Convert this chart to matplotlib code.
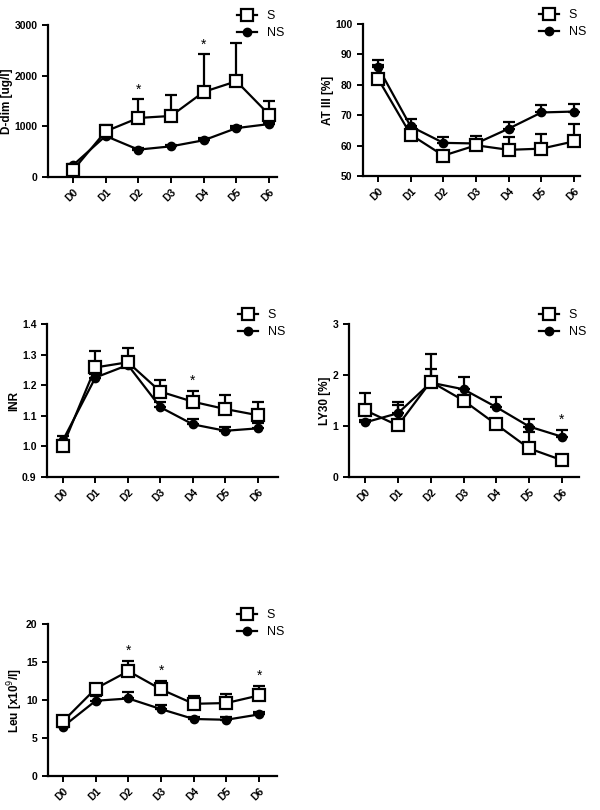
import numpy as np
import matplotlib.pyplot as plt
from matplotlib.lines import Line2D

plt.rcParams['font.family'] = ['Liberation Sans', 'DejaVu Sans']

days = ["D0", "D1", "D2", "D3", "D4", "D5", "D6"]

# D-dim [ug/l]
ddim_s = [130, 900, 1165, 1205, 1680, 1890, 1230]
ddim_s_err = [40, 120, 365, 410, 740, 745, 270]
ddim_ns = [230, 810, 540, 605, 725, 965, 1045]
ddim_ns_err = [30, 40, 30, 30, 40, 40, 40]
ddim_stars = [2, 4]

# AT III [%]
at_s = [82.0, 63.6, 56.7, 60.1, 58.6, 59.0, 61.4]
at_s_err = [4.5, 2.5, 1.5, 1.8, 4.2, 4.8, 5.8]
at_ns = [85.8, 66.3, 60.9, 60.7, 65.6, 70.9, 71.2]
at_ns_err = [2.2, 2.6, 1.9, 2.6, 2.0, 2.4, 2.4]
at_stars = []

# INR
inr_s = [1.002, 1.258, 1.275, 1.179, 1.146, 1.122, 1.102]
inr_s_err = [0.01, 0.054, 0.047, 0.038, 0.035, 0.046, 0.042]
inr_ns = [1.020, 1.225, 1.266, 1.128, 1.072, 1.051, 1.059]
inr_ns_err = [0.013, 0.01, 0.01, 0.017, 0.016, 0.013, 0.016]
inr_stars = [4]

# LY30 [%]
ly_s = [1.31, 1.01, 1.87, 1.50, 1.03, 0.56, 0.33]
ly_s_err = [0.33, 0.40, 0.55, 0.10, 0.10, 0.33, 0.05]
ly_ns = [1.07, 1.25, 1.85, 1.72, 1.37, 0.99, 0.79]
ly_ns_err = [0.05, 0.23, 0.27, 0.24, 0.20, 0.14, 0.14]
ly_stars = [6]

# Leu [x10^9/l]
leu_s = [7.2, 11.5, 13.8, 11.4, 9.5, 9.6, 10.6]
leu_s_err = [0.4, 0.6, 1.3, 1.1, 1.0, 1.2, 1.2]
leu_ns = [6.5, 9.9, 10.2, 8.8, 7.5, 7.4, 8.1]
leu_ns_err = [0.3, 0.6, 0.8, 0.6, 0.3, 0.3, 0.3]
leu_stars = [2, 3, 6]

panels = [
    # data, axes box in pixels (left, right, top, bottom), ylim, yticks, xlim, label
    (ddim_s, ddim_s_err, ddim_ns, ddim_ns_err, ddim_stars,
     (48, 277, 25, 177), (0, 3000), [0, 1000, 2000, 3000], (-0.76, 6.24), "D-dim [ug/l]"),
    (at_s, at_s_err, at_ns, at_ns_err, at_stars,
     (363, 580, 24, 176), (50, 100), [50, 60, 70, 80, 90, 100], (-0.46, 6.18), "AT III [%]"),
    (inr_s, inr_s_err, inr_ns, inr_ns_err, inr_stars,
     (47, 278, 324, 477), (0.9, 1.4), [0.9, 1.0, 1.1, 1.2, 1.3, 1.4], (-0.49, 6.62), "INR"),
    (ly_s, ly_s_err, ly_ns, ly_ns_err, ly_stars,
     (349, 579, 324, 477), (0, 3), [0, 1, 2, 3], (-0.49, 6.52), "LY30 [%]"),
    (leu_s, leu_s_err, leu_ns, leu_ns_err, leu_stars,
     (48, 277, 624, 776), (0, 20), [0, 5, 10, 15, 20], (-0.46, 6.55), "Leu [x10$^9$/l]"),
]

W, H = 600, 810
fig = plt.figure(figsize=(6, 8.1), dpi=100)

s_handle = Line2D([], [], color='black', lw=1.6, marker='s', ms=8.5, mfc='white', mew=1.6)
ns_handle = Line2D([], [], color='black', lw=1.6, marker='o', ms=6, mfc='black')

for s, se, ns, nse, stars, box, ylim, yticks, xlim, label in panels:
    l, r, t, b = box
    ax = fig.add_axes([l / W, 1 - b / H, (r - l) / W, (b - t) / H])
    x = np.arange(len(days))
    z = np.zeros(len(days))
    ax.errorbar(x, ns, yerr=[z, nse], color='black', lw=1.6, marker='o', ms=6,
                mfc='black', mec='black', capsize=4, capthick=1.6, elinewidth=1.6)
    ax.errorbar(x, s, yerr=[z, se], color='black', lw=1.6, marker='s', ms=8.5,
                mfc='white', mec='black', mew=1.6, capsize=4, capthick=1.6, elinewidth=1.6)
    span = ylim[1] - ylim[0]
    for i in stars:
        top = max(s[i] + se[i], ns[i] + nse[i])
        ax.text(i, top + 0.02 * span, "*", ha='center', va='bottom', fontsize=10)
    ax.set_ylim(*ylim)
    ax.set_xlim(*xlim)
    ax.set_yticks(yticks)
    ax.set_xticks(x)
    ax.set_xticklabels(days, rotation=45, ha='right', rotation_mode='anchor')
    for sp in ['top', 'right']:
        ax.spines[sp].set_visible(False)
    for sp in ['left', 'bottom']:
        ax.spines[sp].set_linewidth(1.6)
    ax.tick_params(width=1.4, length=4, labelsize=7.5)
    for lab in ax.get_xticklabels() + ax.get_yticklabels():
        lab.set_fontweight('bold')
    ax.set_ylabel(label, fontsize=8.5, fontweight='bold', labelpad=1)
    ax.legend([s_handle, ns_handle], ["S", "NS"], loc='upper right', bbox_to_anchor=(1.08, 1.17),
              frameon=False, fontsize=9, handlelength=1.6, labelspacing=0.4)

fig.savefig("out.png", dpi=100)
